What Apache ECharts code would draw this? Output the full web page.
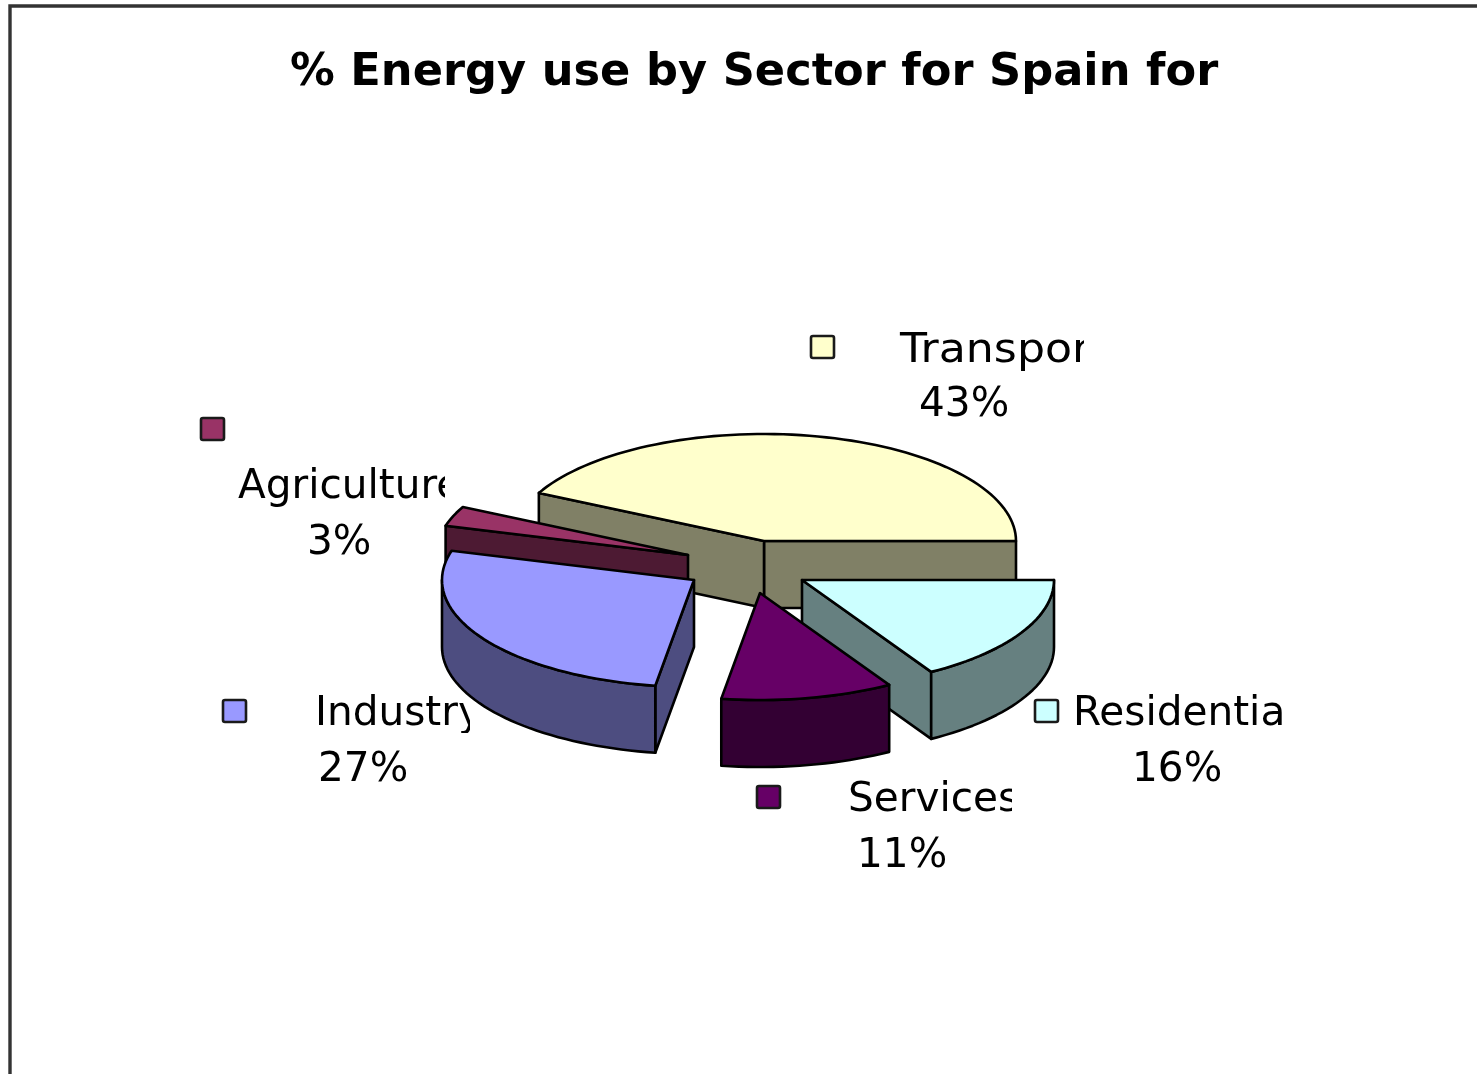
<!DOCTYPE html>
<html>
<head>
<meta charset="utf-8">
<style>html,body{margin:0;padding:0;background:#fff}#c{width:1477px;height:1074px;filter:blur(0.7px)}</style>
<script src="https://cdn.jsdelivr.net/npm/echarts@6/dist/echarts.min.js"></script>
</head>
<body>
<div id="c"></div>
<script>
const chartTitle = '% Energy use by Sector for Spain for';
const sectors = ['Transport', 'Agriculture', 'Industry', 'Services', 'Residential'];
const shares = [42.5, 3, 26.9, 11, 16.4];

// styles
const topColors = ['#FFFFCC', '#993366', '#9999FF', '#660066', '#CCFFFF'];
const wallColors = ['#808066', '#4D1A33', '#4D4D80', '#330033', '#668080'];
// layout
const pieCenter = [764, 541], rx = 252, ry = 107, depth = 67;
const explode = [[0, 0], [-76, 14], [-70, 39], [-4, 52], [38, 39]];
const drawOrder = [0, 1, 2, 4, 3];
const keyBoxes = [[811, 336], [201, 418], [223, 700], [757, 786], [1035, 700]];
const nameAt = [[900, 351], [238, 487], [315, 714], [848, 800], [1073, 714]];
const pctAt = [[919, 405], [307, 543], [318, 770], [857, 856], [1132, 770]];
const nameClip = [1084, 445, 470, 1012, 1284];
const clipBottom = [380, 510, 733, 830, 735];
const nameStretch = [1.09, 1, 1, 1, 1];

const total = shares.reduce((a, b) => a + b, 0);
const spans = [];
shares.reduce((acc, v, i) => { spans[i] = [acc, acc + v / total * 360]; return spans[i][1]; }, 0);

const pt = (cx, cy, deg) => [cx + rx * Math.cos(deg * Math.PI / 180), cy - ry * Math.sin(deg * Math.PI / 180)];
const arc = (cx, cy, a0, a1) => {
  const n = Math.max(2, Math.ceil((a1 - a0) / 2)), out = [];
  for (let k = 0; k <= n; k++) out.push(pt(cx, cy, a0 + (a1 - a0) * k / n));
  return out;
};
const edge = { stroke: '#000', lineWidth: 2.6, lineJoin: 'round' };
const poly = (points, fill) => ({ type: 'polygon', shape: { points }, style: Object.assign({ fill }, edge) });
const cos = deg => Math.cos(deg * Math.PI / 180);

function drawSlice(params) {
  const i = drawOrder[params.dataIndex];
  const cx = pieCenter[0] + explode[i][0], cy = pieCenter[1] + explode[i][1];
  const [a0, a1] = spans[i];
  const wall = wallColors[i], kids = [];
  const cut = a => {
    const p = pt(cx, cy, a);
    kids.push(poly([[cx, cy], p, [p[0], p[1] + depth], [cx, cy + depth]], wall));
  };
  if (cos(a0) > 0) cut(a0);
  if (cos(a1) < 0) cut(a1);
  const lo = Math.max(a0, 180), hi = a1;
  if (hi > lo) {
    const front = arc(cx, cy, lo, hi);
    const back = front.map(p => [p[0], p[1] + depth]).reverse();
    kids.push(poly(front.concat(back), wall));
  }
  kids.push(poly([[cx, cy]].concat(arc(cx, cy, a0, a1)), topColors[i]));
  return { type: 'group', children: kids };
}

function drawLabel(params) {
  const i = params.dataIndex;
  const font = '40.6px "DejaVu Sans"';
  return {
    type: 'group',
    children: [
      { type: 'rect', shape: { x: keyBoxes[i][0], y: keyBoxes[i][1], width: 23, height: 22, r: 2 },
        style: { fill: topColors[i], stroke: '#1a1a1a', lineWidth: 2.6 } },
      { type: 'group',
        clipPath: { type: 'rect', shape: { x: 0, y: 0, width: nameClip[i], height: clipBottom[i] } },
        children: [{ type: 'text', x: nameAt[i][0], y: nameAt[i][1], scaleX: nameStretch[i],
          style: { text: sectors[i], font, fill: '#000', textAlign: 'left', textVerticalAlign: 'middle' } }] },
      { type: 'text', x: pctAt[i][0], y: pctAt[i][1],
        style: { text: Math.round(shares[i]) + '%', font, fill: '#000', textAlign: 'left', textVerticalAlign: 'middle' } }
    ]
  };
}

const chart = echarts.init(document.getElementById('c'), null, { renderer: 'canvas' });
chart.setOption({
  animation: false,
  backgroundColor: '#fff',
  title: {
    text: chartTitle, left: 290, top: 51, padding: 0,
    textStyle: { fontFamily: 'DejaVu Sans', fontWeight: 'bold', fontSize: 44.7, color: '#000' }
  },
  graphic: [{ type: 'rect', shape: { x: 10, y: 6, width: 1600, height: 1200 },
    style: { fill: 'none', stroke: '#333', lineWidth: 3.4 }, silent: true }],
  series: [
    { type: 'custom', coordinateSystem: 'none', silent: true, z: 2,
      data: drawOrder.map(i => shares[i]), renderItem: drawSlice },
    { type: 'custom', coordinateSystem: 'none', silent: true, z: 3,
      data: shares, renderItem: drawLabel }
  ]
});
</script>
</body>
</html>
